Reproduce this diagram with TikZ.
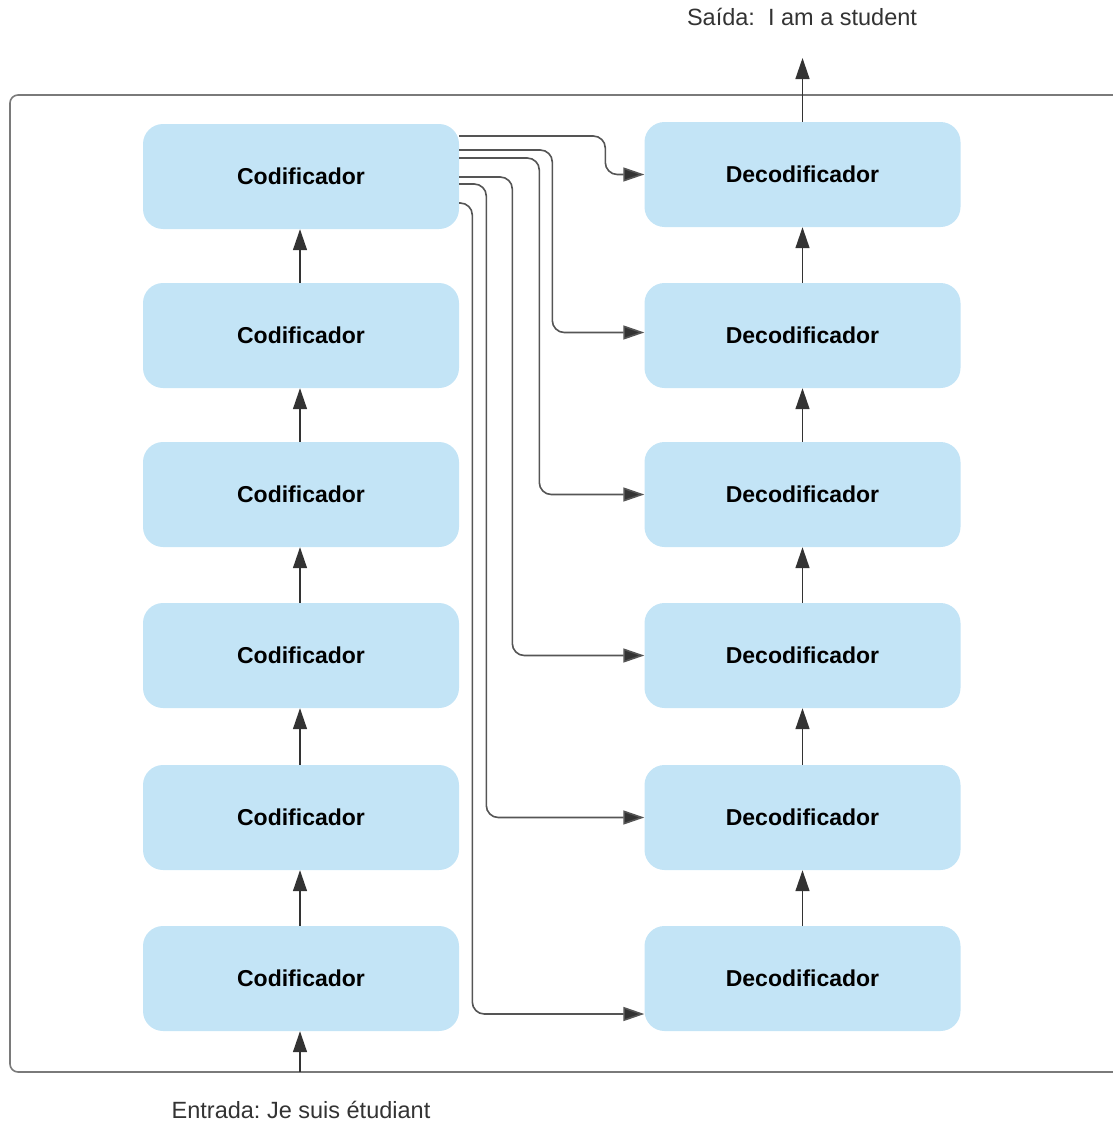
\documentclass[tikz,border=0pt]{standalone}
\usepackage{fontspec}
\setmainfont{Liberation Sans}
\usetikzlibrary{arrows.meta}
\frenchspacing
\definecolor{boxblue}{HTML}{C3E4F6}
\definecolor{linegray}{HTML}{555555}
\definecolor{tipgray}{HTML}{333333}
\definecolor{framegray}{HTML}{7A7A7A}
\tikzset{
  block/.style={fill=boxblue, rounded corners=20pt, minimum width=316pt,
    minimum height=105pt, inner sep=0pt,
    font=\fontsize{23}{27}\selectfont\bfseries},
  flow/.style={draw=tipgray, line width=1.4pt,
    -{Triangle[length=21pt,width=14pt]}},
  link/.style={draw=linegray, line width=1.6pt, rounded corners=12pt,
    -{Triangle[length=21pt,width=14pt,fill=tipgray]}},
  caption/.style={text=tipgray, font=\fontsize{23.5}{27}\selectfont},
  outline/.style={draw=framegray, line width=1.6pt, rounded corners=8pt}
}
\begin{document}
\begin{tikzpicture}[x=1pt,y=-1pt]
\useasboundingbox (0,0) rectangle (1113,1124);

% surrounding frame (runs off the right edge)
\draw[outline] (10,95) rectangle (1130,1072);

% encoder stack
\node[block] (e1) at (301,176.5) {Codificador};
\node[block] (e2) at (301,335.5) {Codificador};
\node[block] (e3) at (301,494.5) {Codificador};
\node[block] (e4) at (301,655.5) {Codificador};
\node[block] (e5) at (301,817.5) {Codificador};
\node[block] (e6) at (301,978.5) {Codificador};

% decoder stack
\node[block] (d1) at (802.5,174.5) {Decodificador};
\node[block] (d2) at (802.5,335.5) {Decodificador};
\node[block] (d3) at (802.5,494.5) {Decodificador};
\node[block] (d4) at (802.5,655.5) {Decodificador};
\node[block] (d5) at (802.5,817.5) {Decodificador};
\node[block] (d6) at (802.5,978.5) {Decodificador};

% input and output labels
\node[caption] (inlabel) at (301,1110) {Entrada: Je suis étudiant};
\node[caption] (outlabel) at (802,17) {Saída:\ \ I am a student};
\coordinate (inpt) at (300,1072);
\coordinate (outpt) at (802,58);

% vertical flow through the encoders
\draw[flow] (inpt) -- (e6.south -| inpt);
\draw[flow] ([xshift=-1pt]e6.north) -- ([xshift=-1pt]e5.south);
\draw[flow] ([xshift=-1pt]e5.north) -- ([xshift=-1pt]e4.south);
\draw[flow] ([xshift=-1pt]e4.north) -- ([xshift=-1pt]e3.south);
\draw[flow] ([xshift=-1pt]e3.north) -- ([xshift=-1pt]e2.south);
\draw[flow] ([xshift=-1pt]e2.north) -- ([xshift=-1pt]e1.south);

% vertical flow through the decoders
\draw[flow] (d6.north) -- (d5.south);
\draw[flow] (d5.north) -- (d4.south);
\draw[flow] (d4.north) -- (d3.south);
\draw[flow] (d3.north) -- (d2.south);
\draw[flow] (d2.north) -- (d1.south);
\draw[flow] (d1.north) -- (outpt -| d1.north);

% encoder output fanned out to every decoder
\draw[link] ([yshift=40.5pt]e1.east) -| ([xshift=-39pt]d1.west) -- (d1.west);
\draw[link] ([yshift=26.5pt]e1.east) -| ([xshift=-92pt,yshift=3pt]d2.west) -- ([yshift=3pt]d2.west);
\draw[link] ([yshift=18.5pt]e1.east) -| ([xshift=-105pt]d3.west) -- (d3.west);
\draw[link] ([yshift=-0.5pt]e1.east) -| ([xshift=-132pt]d4.west) -- (d4.west);
\draw[link] ([yshift=-7.5pt]e1.east) -| ([xshift=-158pt]d5.west) -- (d5.west);
\draw[link] ([yshift=-26.5pt]e1.east) -| ([xshift=-172pt,yshift=-35.5pt]d6.west) -- ([yshift=-35.5pt]d6.west);
\end{tikzpicture}
\end{document}
